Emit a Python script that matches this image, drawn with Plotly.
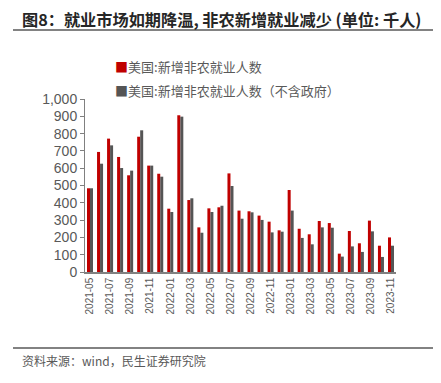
import plotly.graph_objects as go

months = ["2021-05","2021-06","2021-07","2021-08","2021-09","2021-10","2021-11","2021-12",
          "2022-01","2022-02","2022-03","2022-04","2022-05","2022-06","2022-07","2022-08",
          "2022-09","2022-10","2022-11","2022-12","2023-01","2023-02","2023-03","2023-04",
          "2023-05","2023-06","2023-07","2023-08","2023-09","2023-10","2023-11"]
nfp_total = [484, 694, 771, 665, 559, 782, 615, 568, 366, 906, 416, 258, 368, 374, 570, 355,
             351, 326, 291, 241, 474, 250, 218, 295, 283, 106, 237, 166, 297, 152, 200]
nfp_private = [484, 626, 732, 601, 586, 819, 615, 551, 347, 898, 426, 227, 347, 383, 497, 308,
               345, 301, 229, 233, 355, 197, 160, 258, 256, 89, 148, 116, 235, 87, 152]
tick_labels = months[::2]
y_ticks = [0, 100, 200, 300, 400, 500, 600, 700, 800, 900, 1000]

name_total = "美国:新增非农就业人数"
name_private = "美国:新增非农就业人数（不含政府）"
RED = "#C00000"
GRAY = "#555555"
TXT = "#595959"
CJK = "Noto Sans CJK SC, sans-serif"

# page body has an 8px default margin; size the figure so it fills the 441x383 window
OFF = 8
W, H = 441 - OFF, 383 - OFF
PL, PR, PT, PB = 85, 396, 99, 272          # plot area in window pixels
PW, PH = PR - PL, PB - PT

def px(x):
    return (x - PL) / PW

def py(y):
    return (PB - y) / PH

fig = go.Figure()
fig.add_trace(go.Bar(x=months, y=nfp_total, name=name_total, marker_color=RED,
                     marker_line_width=0))
fig.add_trace(go.Bar(x=months, y=nfp_private, name=name_private, marker_color=GRAY,
                     marker_line_width=0))

fig.update_layout(
    width=W, height=H,
    margin=dict(l=PL - OFF, r=441 - PR, t=PT - OFF, b=383 - PB),
    paper_bgcolor="white", plot_bgcolor="white",
    barmode="group", bargap=0.4, bargroupgap=0,
    showlegend=False,
    font=dict(family=CJK, color=TXT),
)
fig.update_xaxes(
    type="category", tickmode="array", tickvals=tick_labels, ticktext=tick_labels,
    tickangle=-90, tickfont=dict(family="Liberation Sans, Arial", size=10, color=TXT),
    showline=True, linecolor="#808080", linewidth=1.5, ticks="", showgrid=False,
)
fig.update_yaxes(
    range=[0, 1000], tickvals=y_ticks, tickformat=",",
    tickfont=dict(family="Liberation Sans, Arial", size=14, color=TXT),
    showline=True, linecolor="#808080", linewidth=1, ticks="outside", ticklen=4,
    tickcolor="#808080", showgrid=False, zeroline=False,
)

fig.add_annotation(text="<b>图8：就业市场如期降温, 非农新增就业减少 (单位: 千人)</b>",
                   xref="paper", yref="paper", x=px(20), y=py(19),
                   xanchor="left", yanchor="middle", showarrow=False,
                   font=dict(family=CJK, size=16.2, color="#262626"))
fig.add_annotation(text=f"<span style='color:{RED}'>■</span>{name_total}",
                   xref="paper", yref="paper", x=px(113), y=py(66),
                   xanchor="left", yanchor="middle", showarrow=False,
                   font=dict(family=CJK, size=13, color=TXT))
fig.add_annotation(text=f"<span style='color:{GRAY}'>■</span>{name_private}",
                   xref="paper", yref="paper", x=px(113), y=py(90),
                   xanchor="left", yanchor="middle", showarrow=False,
                   font=dict(family=CJK, size=13, color=TXT))
fig.add_annotation(text="资料来源：wind，民生证券研究院",
                   xref="paper", yref="paper", x=px(20), y=py(360),
                   xanchor="left", yanchor="middle", showarrow=False,
                   font=dict(family=CJK, size=12, color=TXT))
for yy in (30, 348):
    fig.add_shape(type="line", xref="paper", yref="paper",
                  x0=px(13), x1=px(433), y0=py(yy), y1=py(yy),
                  line=dict(color="#595959", width=1.5))

fig.write_html("out.html")
